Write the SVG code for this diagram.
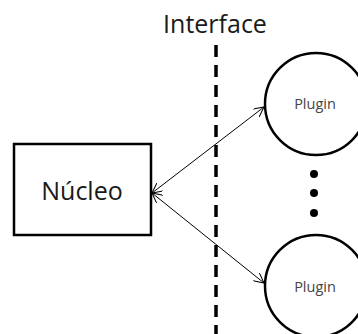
<svg xmlns="http://www.w3.org/2000/svg" width="358" height="334" viewBox="0 0 358 334">
<style>
.txt{font-family:"Open Sans","Liberation Sans",sans-serif;fill:#1a1a1a}
.small{fill:#444}
.shape{fill:#fff;stroke:#000;stroke-width:2.5}
.conn{stroke:#000;stroke-width:1;fill:none;marker-start:url(#ah);marker-end:url(#ah)}
</style>
<defs>
<marker id="ah" viewBox="0 0 10 10" refX="10" refY="5" markerWidth="10" markerHeight="10" markerUnits="userSpaceOnUse" orient="auto-start-reverse">
<path d="M0,0 L10,5 L0,10" fill="none" stroke="#000" stroke-width="1"/>
</marker>
</defs>
<rect width="358" height="334" fill="#fff"/>
<g id="interface">
<text class="txt" x="215" y="33" font-size="25" text-anchor="middle">Interface</text>
<line x1="216" y1="45" x2="216" y2="334" stroke="#000" stroke-width="3.5" stroke-dasharray="12,8"/>
</g>
<g id="connectors">
<line class="conn" x1="152" y1="193" x2="264" y2="107"/>
<line class="conn" x1="152" y1="193" x2="264" y2="283"/>
</g>
<g id="nucleo">
<rect class="shape" x="14" y="144" width="137" height="91"/>
<text class="txt" x="82" y="200" font-size="25" text-anchor="middle">Núcleo</text>
</g>
<g id="plugin1">
<circle class="shape" cx="316" cy="104" r="51"/>
<text class="txt small" x="315" y="109" font-size="14.5" text-anchor="middle">Plugin</text>
</g>
<g id="dots">
<circle cx="314" cy="174" r="4"/>
<circle cx="314" cy="193" r="4"/>
<circle cx="314" cy="213" r="4"/>
</g>
<g id="plugin2">
<circle class="shape" cx="316" cy="286" r="51"/>
<text class="txt small" x="315" y="292" font-size="14.5" text-anchor="middle">Plugin</text>
</g>
</svg>
